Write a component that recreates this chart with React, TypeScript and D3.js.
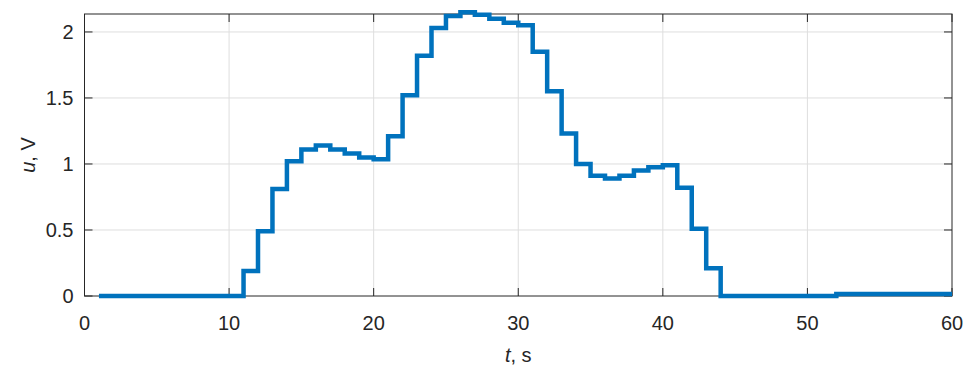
import React, { useEffect, useRef } from 'react';
import * as d3 from 'd3';

// step start times (s) and the voltage held until the next step
const times = [
  1, 2, 3, 4, 5, 6, 7, 8, 9, 10, 11, 12, 13, 14, 15, 16, 17, 18, 19, 20, 21, 22, 23, 24, 25, 26, 27, 28, 29, 30,
  31, 32, 33, 34, 35, 36, 37, 38, 39, 40, 41, 42, 43, 44, 45, 46, 47, 48, 49, 50, 51, 52, 53, 54, 55, 56, 57, 58,
  59, 60,
];
const volts = [
  0, 0, 0, 0, 0, 0, 0, 0, 0, 0, 0.19, 0.49, 0.81, 1.02, 1.11, 1.14, 1.11, 1.08, 1.05, 1.035, 1.21, 1.52, 1.82,
  2.03, 2.12, 2.15, 2.13, 2.1, 2.07, 2.05, 1.85, 1.55, 1.23, 1.0, 0.91, 0.89, 0.91, 0.95, 0.975, 0.99, 0.82, 0.51,
  0.21, 0, 0, 0, 0, 0, 0, 0, 0, 0.015, 0.015, 0.015, 0.015, 0.015, 0.015, 0.015, 0.015, 0.015,
];
const xTicks = [0, 10, 20, 30, 40, 50, 60];
const yTicks = [0, 0.5, 1, 1.5, 2];
const yTickLabels = ['0', '0.5', '1', '1.5', '2'];

const W = 974;
const H = 374;
const margin = { left: 84.5, right: 22, top: 14, bottom: 78 };

export default function App() {
  const ref = useRef<SVGSVGElement>(null);

  useEffect(() => {
    const svg = d3.select(ref.current);
    svg.selectAll('*').remove();

    const x = d3.scaleLinear().domain([0, 60]).range([margin.left, W - margin.right]);
    const y = d3.scaleLinear().domain([0, 2.136]).range([H - margin.bottom, margin.top]);
    const ink = '#262626';
    const font = 'Liberation Sans, Arial, Helvetica, sans-serif';

    // grid
    const grid = svg.append('g').attr('stroke', '#dedede').attr('stroke-width', 1);
    grid
      .selectAll('.gx')
      .data(xTicks.slice(1, -1))
      .enter()
      .append('line')
      .attr('x1', d => x(d))
      .attr('x2', d => x(d))
      .attr('y1', y.range()[0])
      .attr('y2', y.range()[1]);
    grid
      .selectAll('.gy')
      .data(yTicks.slice(1))
      .enter()
      .append('line')
      .attr('x1', x.range()[0])
      .attr('x2', x.range()[1])
      .attr('y1', d => y(d))
      .attr('y2', d => y(d));

    // ticks on all four sides, pointing inward
    const tl = 8;
    const ticks = svg.append('g').attr('stroke', ink).attr('stroke-width', 1);
    xTicks.forEach(t => {
      ticks.append('line').attr('x1', x(t)).attr('x2', x(t)).attr('y1', y.range()[0]).attr('y2', y.range()[0] - tl);
      ticks.append('line').attr('x1', x(t)).attr('x2', x(t)).attr('y1', y.range()[1]).attr('y2', y.range()[1] + tl);
    });
    yTicks.forEach(t => {
      ticks.append('line').attr('x1', x.range()[0]).attr('x2', x.range()[0] + tl).attr('y1', y(t)).attr('y2', y(t));
      ticks.append('line').attr('x1', x.range()[1]).attr('x2', x.range()[1] - tl).attr('y1', y(t)).attr('y2', y(t));
    });

    // box
    svg
      .append('rect')
      .attr('x', x.range()[0])
      .attr('y', y.range()[1])
      .attr('width', x.range()[1] - x.range()[0])
      .attr('height', y.range()[0] - y.range()[1])
      .attr('fill', 'none')
      .attr('stroke', ink)
      .attr('stroke-width', 1);

    // tick labels
    svg
      .append('g')
      .selectAll('text')
      .data(xTicks)
      .enter()
      .append('text')
      .attr('x', d => x(d))
      .attr('y', y.range()[0] + 34)
      .attr('text-anchor', 'middle')
      .attr('font-family', font)
      .attr('font-size', 20)
      .attr('fill', ink)
      .text(d => d);
    svg
      .append('g')
      .selectAll('text')
      .data(yTicks)
      .enter()
      .append('text')
      .attr('x', x.range()[0] - 11)
      .attr('y', d => y(d))
      .attr('dy', '0.36em')
      .attr('text-anchor', 'end')
      .attr('font-family', font)
      .attr('font-size', 20)
      .attr('fill', ink)
      .text((d, i) => yTickLabels[i]);

    // axis labels
    const xl = svg
      .append('text')
      .attr('x', (x.range()[0] + x.range()[1]) / 2)
      .attr('y', 362)
      .attr('text-anchor', 'middle')
      .attr('font-family', font)
      .attr('font-size', 20)
      .attr('fill', ink);
    xl.append('tspan').attr('font-style', 'italic').text('t');
    xl.append('tspan').text(', s');

    const yl = svg
      .append('text')
      .attr('transform', `translate(35,${(y.range()[0] + y.range()[1]) / 2}) rotate(-90)`)
      .attr('text-anchor', 'middle')
      .attr('font-family', font)
      .attr('font-size', 20)
      .attr('fill', ink);
    yl.append('tspan').attr('font-style', 'italic').text('u');
    yl.append('tspan').text(', V');

    // stairs
    const pts = times.map((t, i) => [t, i < volts.length ? volts[i] : volts[volts.length - 1]] as [number, number]);
    const line = d3
      .line<[number, number]>()
      .x(d => x(d[0]))
      .y(d => y(d[1]))
      .curve(d3.curveStepAfter);
    svg
      .append('path')
      .datum(pts)
      .attr('d', line)
      .attr('fill', 'none')
      .attr('stroke', '#0072BD')
      .attr('stroke-width', 4.5)
      .attr('stroke-linejoin', 'miter');
  }, []);

  return (
    <div style={{ position: 'absolute', left: 0, top: 0 }}>
      <svg ref={ref} width={W} height={H} style={{ display: 'block', background: '#fff' }} />
    </div>
  );
}
